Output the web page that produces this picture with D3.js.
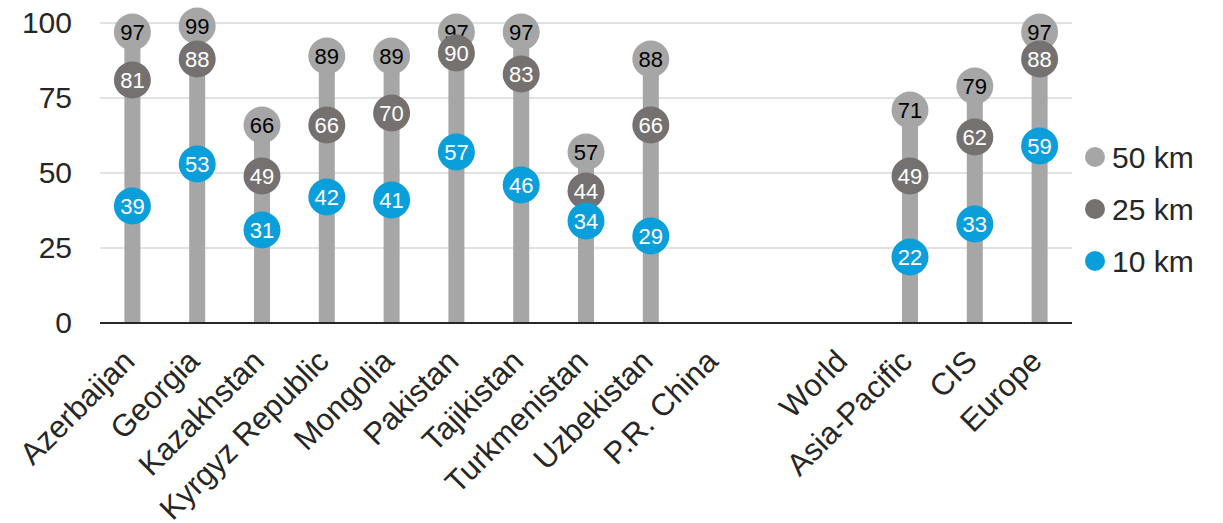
<!DOCTYPE html>
<html>
<head>
<meta charset="utf-8">
<script src="https://cdn.jsdelivr.net/npm/d3@7"></script>
<style>
  html, body { margin: 0; padding: 0; background: #fff; }
  svg { display: block; font-family: "Liberation Sans", Arial, sans-serif; }
</style>
</head>
<body>
<svg id="chart" width="1223" height="523"></svg>
<script>
// Share of population within reach, by distance band
const categories = ["Azerbaijan", "Georgia", "Kazakhstan", "Kyrgyz Republic", "Mongolia",
  "Pakistan", "Tajikistan", "Turkmenistan", "Uzbekistan", "P.R. China", "",
  "World", "Asia-Pacific", "CIS", "Europe"];
const km50 = [97, 99, 66, 89, 89, 97, 97, 57, 88, null, null, null, 71, 79, 97];
const km25 = [81, 88, 49, 66, 70, 90, 83, 44, 66, null, null, null, 49, 62, 88];
const km10 = [39, 53, 31, 42, 41, 57, 46, 34, 29, null, null, null, 22, 33, 59];
const yTicks = [0, 25, 50, 75, 100];

const series = [
  { name: "50 km", values: km50, color: "#a6a6a6", text: "#000" },
  { name: "25 km", values: km25, color: "#767171", text: "#fff" },
  { name: "10 km", values: km10, color: "#0a9fda", text: "#fff" }
];

const svg = d3.select("#chart");
const plotLeft = 100, plotRight = 1072, plotTop = 23, plotBottom = 323;

const x = d3.scaleBand().domain(d3.range(categories.length)).range([plotLeft, plotRight]);
const y = d3.scaleLinear().domain([0, 100]).range([plotBottom, plotTop]);
const cx = i => x(i) + x.bandwidth() / 2;

// gridlines
svg.append("g").selectAll("line").data(yTicks.filter(t => t > 0)).join("line")
  .attr("x1", plotLeft).attr("x2", plotRight)
  .attr("y1", d => y(d)).attr("y2", d => y(d))
  .attr("stroke", "#d9d9d9").attr("stroke-width", 1.3);

// y axis labels
const yAxis = d3.axisLeft(y).tickValues(yTicks).tickSize(0).tickPadding(0);
const gy = svg.append("g").attr("transform", `translate(72,0)`).call(yAxis);
gy.select(".domain").remove();
gy.selectAll("text").attr("font-size", 30).attr("fill", "#262626").attr("dy", "0.3em")
  .attr("font-family", "Liberation Sans, Arial, sans-serif");

// stems up to the 50 km value
const idx = d3.range(categories.length).filter(i => km50[i] != null);
svg.append("g").selectAll("rect").data(idx).join("rect")
  .attr("x", i => cx(i) - 8).attr("width", 16)
  .attr("y", i => y(km50[i])).attr("height", i => plotBottom - y(km50[i]))
  .attr("fill", "#a6a6a6");

// x axis baseline
svg.append("line").attr("x1", plotLeft).attr("x2", plotRight)
  .attr("y1", plotBottom).attr("y2", plotBottom)
  .attr("stroke", "#262626").attr("stroke-width", 2);

// dots with value labels
series.forEach(s => {
  const g = svg.append("g");
  const pts = idx.filter(i => s.values[i] != null);
  g.selectAll("circle").data(pts).join("circle")
    .attr("cx", cx).attr("cy", i => y(s.values[i])).attr("r", 18.5)
    .attr("fill", s.color);
  g.selectAll("text").data(pts).join("text")
    .attr("x", cx).attr("y", i => y(s.values[i]))
    .attr("dy", "0.36em").attr("text-anchor", "middle")
    .attr("font-size", 22).attr("fill", s.text)
    .text(i => s.values[i]);
});

// category labels, rotated
svg.append("g").selectAll("text").data(d3.range(categories.length)).join("text")
  .attr("transform", i => `translate(${cx(i) + 4},${plotBottom + 40}) rotate(-45)`)
  .attr("text-anchor", "end")
  .attr("font-size", 31).attr("fill", "#262626")
  .text(i => categories[i]);

// legend
const lg = svg.append("g").selectAll("g").data(series).join("g")
  .attr("transform", (d, k) => `translate(1095,${157 + k * 52})`);
lg.append("circle").attr("r", 10).attr("fill", d => d.color);
lg.append("text").attr("x", 17).attr("dy", "0.36em")
  .attr("font-size", 30).attr("fill", "#262626").text(d => d.name);
</script>
</body>
</html>
